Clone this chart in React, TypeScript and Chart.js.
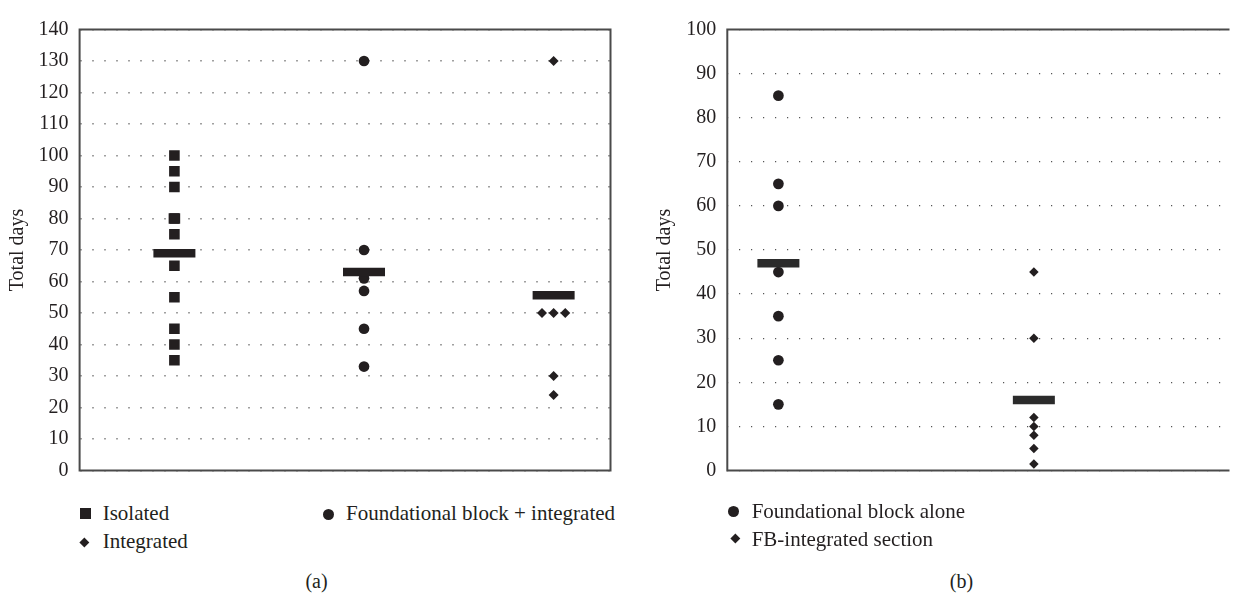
import React, { useEffect, useRef } from "react";
import { Chart, registerables } from "chart.js";

Chart.register(...registerables);

const SERIF = "'Liberation Serif', 'Times New Roman', Times, serif";
const INK = "#231f20";

// ---------- data: panel (a) ----------
const leftCategories = ["Isolated", "Foundational block + integrated", "Integrated"];
const isolatedDays = [100, 95, 90, 80, 80, 75, 65, 55, 45, 40, 35];
const fbIntegratedDays = [130, 70, 61, 57, 45, 33];
const integratedDays = [130, 50, 50, 50, 30, 24];
const leftMeans = [69, 63, 55.6];
const leftTickMax = 140;
const leftTickStep = 10;

// ---------- data: panel (b) ----------
const rightCategories = ["Foundational block alone", "FB-integrated section"];
const fbAloneDays = [85, 65, 60, 45, 35, 25, 15];
const fbSectionDays = [45, 30, 12, 10, 8, 5, 1.5];
const rightMeans = [47, 16];
const rightTickMax = 100;
const rightTickStep = 10;

const axisTitle = "Total days";

// spread identical values side by side around the category position
function spread(values: number[], center: number, step: number) {
  const counts: Record<string, number> = {};
  values.forEach((v) => (counts[v] = (counts[v] || 0) + 1));
  const seen: Record<string, number> = {};
  return values.map((v) => {
    const n = counts[v];
    const k = (seen[v] = (seen[v] ?? -1) + 1);
    return { x: center + (k - (n - 1) / 2) * step, y: v };
  });
}

const framePlugin = (closed: boolean) => ({
  id: "frame",
  afterDraw(chart: any) {
    const { ctx, chartArea } = chart;
    const { left, right, top, bottom } = chartArea;
    ctx.save();
    ctx.strokeStyle = "#4a4a4a";
    ctx.lineWidth = 2;
    ctx.beginPath();
    if (closed) {
      ctx.rect(left, top, right - left, bottom - top);
    } else {
      ctx.moveTo(right + 2, top);
      ctx.lineTo(left, top);
      ctx.lineTo(left, bottom);
      ctx.lineTo(right + 2, bottom);
    }
    ctx.stroke();
    ctx.restore();
  },
});

function meanDataset(means: number[], color: string) {
  return {
    label: "mean",
    data: means.map((m, i) => ({ x: i + 1, y: m })),
    pointStyle: "line",
    pointRadius: 21,
    borderWidth: 8.5,
    borderColor: color,
    backgroundColor: color,
  };
}

function markerDataset(label: string, data: any[], style: string, radius: number) {
  return {
    label,
    data,
    pointStyle: style,
    pointRadius: radius,
    borderWidth: 0,
    backgroundColor: INK,
    borderColor: INK,
  };
}

function yScale(max: number, step: number, axisWidth: number, titlePad: number, dash: number[], gridColor: string, gridWidth: number) {
  return {
    type: "linear",
    min: 0,
    max,
    afterFit: (scale: any) => {
      scale.width = axisWidth;
    },
    ticks: {
      stepSize: step,
      padding: 11,
      color: INK,
      font: { family: SERIF, size: 20 },
    },
    grid: {
      drawTicks: false,
      color: gridColor,
      lineWidth: gridWidth,
    },
    border: { display: false, dash, dashOffset: 0 },
    title: {
      display: true,
      text: axisTitle,
      color: INK,
      font: { family: SERIF, size: 20 },
      padding: { top: titlePad, bottom: 0 },
    },
  };
}

function leftConfig(): any {
  return {
    type: "scatter",
    data: {
      labels: leftCategories,
      datasets: [
        meanDataset(leftMeans, INK),
        markerDataset(leftCategories[0], spread(isolatedDays, 1, 0.005), "rect", 7.5),
        markerDataset(leftCategories[1], spread(fbIntegratedDays, 2, 0.06), "circle", 5.35),
        markerDataset(leftCategories[2], spread(integratedDays, 3, 0.0614), "rectRot", 5),
      ],
    },
    options: {
      animation: false,
      responsive: false,
      events: [],
      layout: { padding: { top: 21, bottom: 22, left: 0, right: 13.5 } },
      plugins: { legend: { display: false }, tooltip: { enabled: false } },
      scales: {
        x: { type: "linear", min: 0.5, max: 3.3, display: false },
        y: yScale(leftTickMax, leftTickStep, 79.6, 6, [2, 10], "#a0a0a0", 1.5),
      },
    },
    plugins: [framePlugin(true)],
  };
}

function rightConfig(): any {
  return {
    type: "scatter",
    data: {
      labels: rightCategories,
      datasets: [
        meanDataset(rightMeans, "#2b2b2b"),
        markerDataset(rightCategories[0], spread(fbAloneDays, 1, 0.05), "circle", 5.35),
        markerDataset(rightCategories[1], spread(fbSectionDays, 2, 0.05), "rectRot", 4.75),
      ],
    },
    options: {
      animation: false,
      responsive: false,
      events: [],
      layout: { padding: { top: 19, bottom: 23.3, left: 0, right: 0 } },
      plugins: { legend: { display: false }, tooltip: { enabled: false } },
      scales: {
        x: { type: "linear", min: 0.8, max: 2.758, display: false },
        y: yScale(rightTickMax, rightTickStep, 87.3, 13, [1.2, 10.8], "#555555", 1.2),
      },
    },
    plugins: [framePlugin(false)],
  };
}

function ChartCanvas({ build, left, width, height }: { build: () => any; left: number; width: number; height: number }) {
  const ref = useRef<HTMLCanvasElement | null>(null);
  useEffect(() => {
    if (!ref.current) return;
    const chart = new Chart(ref.current, build());
    return () => chart.destroy();
  }, [build]);
  return (
    <canvas
      ref={ref}
      width={width}
      height={height}
      style={{ position: "absolute", left, top: 0, width, height }}
    />
  );
}

function Marker({ shape, cx, cy, size }: { shape: string; cx: number; cy: number; size: number }) {
  const base: React.CSSProperties = { position: "absolute", background: INK };
  if (shape === "diamond") {
    const s = size / Math.SQRT2;
    return <div style={{ ...base, left: cx - s / 2, top: cy - s / 2, width: s, height: s, transform: "rotate(45deg)" }} />;
  }
  return (
    <div
      style={{
        ...base,
        left: cx - size / 2,
        top: cy - size / 2,
        width: size,
        height: size,
        borderRadius: shape === "circle" ? "50%" : 0,
      }}
    />
  );
}

function Label({ text, x, baseline, size, center }: { text: string; x: number; baseline: number; size: number; center?: boolean }) {
  return (
    <div
      style={{
        position: "absolute",
        left: x,
        top: baseline - 0.8375 * size,
        fontSize: size,
        lineHeight: `${size}px`,
        whiteSpace: "nowrap",
        transform: center ? "translateX(-50%)" : undefined,
      }}
    >
      {text}
    </div>
  );
}

export default function App() {
  return (
    <div
      style={{
        position: "absolute",
        left: 0,
        top: 0,
        width: 1257,
        height: 593,
        overflow: "hidden",
        background: "#ffffff",
        fontFamily: SERIF,
        color: INK,
      }}
    >
      <ChartCanvas build={leftConfig} left={0} width={640} height={500} />
      <ChartCanvas build={rightConfig} left={640} width={617} height={500} />

      {/* legend (a) */}
      <Marker shape="square" cx={85} cy={513.5} size={11} />
      <Label text={leftCategories[0]} x={102.7} baseline={521} size={21} />
      <Marker shape="circle" cx={328} cy={514} size={11} />
      <Label text={leftCategories[1]} x={346} baseline={521} size={21} />
      <Marker shape="diamond" cx={84.5} cy={542.5} size={9.5} />
      <Label text={leftCategories[2]} x={102.7} baseline={548.5} size={21} />

      {/* legend (b) */}
      <Marker shape="circle" cx={733} cy={511.5} size={11} />
      <Label text={rightCategories[0]} x={751.7} baseline={519} size={21} />
      <Marker shape="diamond" cx={735} cy={538.5} size={9.5} />
      <Label text={rightCategories[1]} x={751.7} baseline={546.5} size={21} />

      {/* panel captions */}
      <Label text="(a)" x={316.5} baseline={588} size={20} center />
      <Label text="(b)" x={961.5} baseline={588} size={20} center />
    </div>
  );
}
